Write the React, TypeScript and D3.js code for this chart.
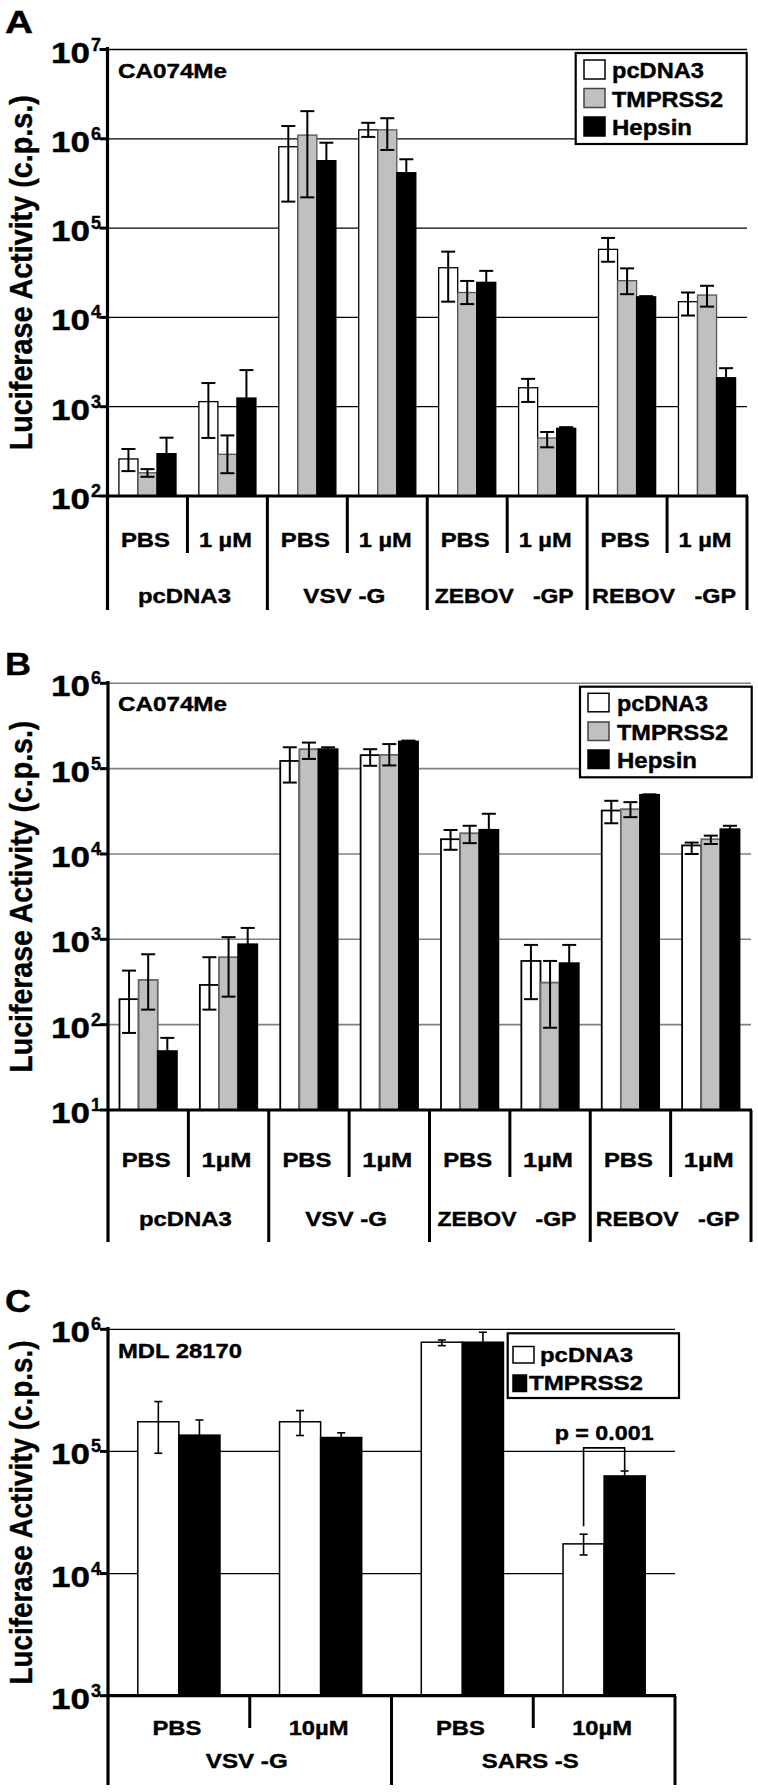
import React from "react";
import * as d3 from "d3";

const FONT = "'Liberation Sans', Arial, Helvetica, sans-serif";

// ---------- Data ----------
const seriesAB = ["pcDNA3", "TMPRSS2", "Hepsin"];
const categoriesAB = ["pcDNA3", "VSV -G", "ZEBOV   -GP", "REBOV   -GP"];
const treatmentsA = ["PBS", "1 µM"];
const treatmentsB = ["PBS", "1µM"];

// Panel A (8 sub-groups: category x treatment)
const aPcDNA3 = [260, 1140, 815000, 1260000, 36000, 1630, 57800, 15000];
const aPcDNA3Hi = [336, 1840, 1390000, 1510000, 54500, 2050, 77600, 19000];
const aPcDNA3Lo = [190, 447, 198000, 1050000, 15000, 1130, 42000, 10500];
const aTMPRSS2 = [182, 293, 1100000, 1260000, 19000, 446, 25800, 17800];
const aTMPRSS2Hi = [200, 477, 2040000, 1700000, 25600, 521, 35400, 22600];
const aTMPRSS2Lo = [164, 180, 221000, 750000, 14100, 351, 18200, 13200];
const aHepsin = [298, 1250, 569000, 417000, 24700, 573, 17000, 2110];
const aHepsinHi = [450, 2570, 904000, 590000, 33200, 590, 17300, 2700];
const aHepsinLo = [200, 600, 400000, 300000, 18000, 556, 16700, 1700];

// Panel B
const bPcDNA3 = [199, 292, 123000, 144000, 14900, 558, 32300, 12600];
const bPcDNA3Hi = [430, 617, 178000, 169000, 19100, 860, 42000, 13600];
const bPcDNA3Lo = [80, 150, 68700, 108000, 11200, 199, 22900, 10000];
const bTMPRSS2 = [334, 617, 169000, 145000, 17500, 311, 33500, 14900];
const bTMPRSS2Hi = [668, 1060, 202000, 194000, 21400, 558, 40500, 16400];
const bTMPRSS2Lo = [150, 213, 130000, 109000, 13400, 92, 27000, 13100];
const bHepsin = [49, 875, 169000, 208000, 19200, 525, 49300, 19500];
const bHepsinHi = [70, 1360, 178000, 213000, 29600, 860, 50000, 21400];
const bHepsinLo = [35, 600, 160000, 203000, 13000, 320, 48500, 17800];

// Panel C
const seriesC = ["pcDNA3", "TMPRSS2"];
const categoriesC = ["VSV -G", "SARS -S"];
const treatmentsC = ["PBS", "10µM"];
const cPcDNA3 = [175000, 175000, 784000, 17500];
const cPcDNA3Hi = [256000, 216000, 817000, 21000];
const cPcDNA3Lo = [96600, 135000, 735000, 14200];
const cTMPRSS2 = [136000, 130000, 784000, 63000];
const cTMPRSS2Hi = [181000, 142000, 946000, 69200];
const cTMPRSS2Lo = [100000, 118000, 650000, 57000];
const pBracketLevel = 107000;
const pLabel = "p = 0.001";

const yTitle = "Luciferase Activity (c.p.s.)";

// rendered widths of labels (presentation)
const W: Record<string, number> = {
  "PBS": 49, "1 µM": 53, "1µM": 50, "10µM": 60,
  "pcDNA3": 93, "VSV -G": 82, "ZEBOV   -GP": 139, "REBOV   -GP": 144, "SARS -S": 97,
};

// ---------- Helpers ----------
function T({ x, y, size, len, anchor = "start", children, fill = "#000" }: any) {
  return (
    <text
      x={x}
      y={y}
      fontSize={size}
      textAnchor={anchor}
      fontWeight="bold"
      fontFamily={FONT}
      fill={fill}
      stroke={fill}
      strokeWidth={0.4}
      textLength={len}
      lengthAdjust="spacingAndGlyphs"
      style={{ whiteSpace: "pre" }}
    >
      {children}
    </text>
  );
}

type SeriesDef = { name: string; v: number[]; hi: number[]; lo: number[]; fill: string; stroke: string };

function Panel(p: any) {
  const {
    letter, letterY, letterW, note, noteY, noteW, x0, x1, yTop, yBottom, decMin, decMax,
    gridColor, gridWidth, series, categories, treatments, padOuter,
    subLabelY, catLabelY, shortBottom, longBottom, axisTop,
    legend, capW, errW, barStroke, extra, titleLen,
  } = p;
  const y = d3.scaleLog().domain([Math.pow(10, decMin), Math.pow(10, decMax)]).range([yBottom, yTop]);
  const nSub = categories.length * treatments.length;
  const subIds = d3.range(nSub).map(String);
  const x = d3.scaleBand().domain(subIds).range([x0, x1]).padding(0);
  const bw = x.bandwidth();
  const xs = d3.scaleBand().domain(series.map((s: SeriesDef) => s.name)).range([0, bw]).paddingInner(0).paddingOuter(padOuter);
  const decades = d3.range(decMin, decMax + 1);
  const midY = (yTop + yBottom) / 2;

  return (
    <g>
      <T x={5} y={letterY} size={31} len={letterW}>{letter}</T>
      {/* gridlines */}
      {decades.slice(1).map((d) => (
        <line key={"g" + d} x1={x0} x2={x1} y1={y(Math.pow(10, d))} y2={y(Math.pow(10, d))} stroke={gridColor} strokeWidth={gridWidth} />
      ))}
      {/* bars */}
      {subIds.map((id, i) => (
        <g key={"sg" + id}>
          {series.map((s: SeriesDef) => {
            const bx = (x(id) as number) + (xs(s.name) as number);
            const top = y(s.v[i]);
            return (
              <rect key={s.name} x={bx} y={top} width={xs.bandwidth()} height={yBottom - top}
                fill={s.fill} stroke={s.stroke} strokeWidth={barStroke} />
            );
          })}
        </g>
      ))}
      {/* error bars */}
      {subIds.map((id, i) => (
        <g key={"eb" + id}>
          {series.map((s: SeriesDef) => {
            const cx = (x(id) as number) + (xs(s.name) as number) + xs.bandwidth() / 2;
            const yh = y(s.hi[i]);
            const yl = y(s.lo[i]);
            return (
              <g key={s.name} stroke="#000" strokeWidth={errW}>
                <line x1={cx} x2={cx} y1={yh} y2={yl} />
                <line x1={cx - capW / 2} x2={cx + capW / 2} y1={yh} y2={yh} />
                <line x1={cx - capW / 2} x2={cx + capW / 2} y1={yl} y2={yl} />
              </g>
            );
          })}
        </g>
      ))}
      {/* y axis */}
      <line x1={x0} x2={x0} y1={axisTop} y2={longBottom} stroke="#000" strokeWidth={3.2} />
      {decades.map((d) => {
        const ty = y(Math.pow(10, d));
        return (
          <g key={"t" + d}>
            <line x1={x0 - 8} x2={x0} y1={ty} y2={ty} stroke="#000" strokeWidth={3} />
            <T x={90} y={ty + 13} size={29} len={39} anchor="end">10</T>
            <T x={91} y={ty + 1} size={19} len={10}>{String(d)}</T>
          </g>
        );
      })}
      {/* x axis */}
      <line x1={x0} x2={x1 + 1} y1={yBottom} y2={yBottom} stroke="#000" strokeWidth={3.2} />
      {d3.range(1, nSub + 1).map((k) => {
        const xx = k === nSub ? x1 : (x(String(k)) as number);
        const long = k % treatments.length === 0;
        return (
          <line key={"st" + k} x1={xx} x2={xx} y1={yBottom} y2={long ? longBottom : shortBottom} stroke="#000" strokeWidth={3} />
        );
      })}
      {subIds.map((id, i) => {
        const lab = treatments[i % treatments.length];
        return (
          <T key={"sl" + id} x={(x(id) as number) + bw / 2 - 2} y={subLabelY} size={21} anchor="middle" len={W[lab]}>
            {lab}
          </T>
        );
      })}
      {categories.map((c: string, k: number) => (
        <T key={"cl" + k} x={x0 + (k + 0.5) * bw * treatments.length - 3} y={catLabelY} size={21} anchor="middle" len={W[c]}>
          {c}
        </T>
      ))}
      {/* note */}
      <T x={118} y={noteY} size={21} len={noteW}>{note}</T>
      {/* y title */}
      <text transform={`translate(32,${midY}) rotate(-90)`} textAnchor="middle"
        fontFamily={FONT} fontWeight="bold" fontSize={31} stroke="#000" strokeWidth={0.4}
        textLength={titleLen} lengthAdjust="spacingAndGlyphs">
        {yTitle}
      </text>
      {/* legend */}
      <rect x={legend.box[0]} y={legend.box[1]} width={legend.box[2] - legend.box[0]} height={legend.box[3] - legend.box[1]}
        fill="#fff" stroke="#000" strokeWidth={2.2} />
      {series.map((s: SeriesDef, i: number) => (
        <g key={"lg" + s.name}>
          <rect x={legend.sx} y={legend.rows[i]} width={legend.sw[i]} height={legend.sh} fill={s.fill} stroke={s.stroke === "#000" ? "#000" : "#444"} strokeWidth={1.5} />
          <T x={legend.tx[i]} y={legend.base[i]} size={legend.size} len={legend.lens[i]}>{s.name}</T>
        </g>
      ))}
      {extra ? extra(x, xs, y) : null}
    </g>
  );
}

export default function App() {
  const sA: SeriesDef[] = [
    { name: seriesAB[0], v: aPcDNA3, hi: aPcDNA3Hi, lo: aPcDNA3Lo, fill: "#fff", stroke: "#000" },
    { name: seriesAB[1], v: aTMPRSS2, hi: aTMPRSS2Hi, lo: aTMPRSS2Lo, fill: "#c0c0c0", stroke: "#555" },
    { name: seriesAB[2], v: aHepsin, hi: aHepsinHi, lo: aHepsinLo, fill: "#000", stroke: "#000" },
  ];
  const sB: SeriesDef[] = [
    { name: seriesAB[0], v: bPcDNA3, hi: bPcDNA3Hi, lo: bPcDNA3Lo, fill: "#fff", stroke: "#000" },
    { name: seriesAB[1], v: bTMPRSS2, hi: bTMPRSS2Hi, lo: bTMPRSS2Lo, fill: "#c0c0c0", stroke: "#666" },
    { name: seriesAB[2], v: bHepsin, hi: bHepsinHi, lo: bHepsinLo, fill: "#000", stroke: "#000" },
  ];
  const sC: SeriesDef[] = [
    { name: seriesC[0], v: cPcDNA3, hi: cPcDNA3Hi, lo: cPcDNA3Lo, fill: "#fff", stroke: "#000" },
    { name: seriesC[1], v: cTMPRSS2, hi: cTMPRSS2Hi, lo: cTMPRSS2Lo, fill: "#000", stroke: "#000" },
  ];

  const pExtra = (x: any, xs: any, y: any) => {
    const id = "3";
    const lx = x(id) + xs(seriesC[0]) + xs.bandwidth() / 2;
    const rx = x(id) + xs(seriesC[1]) + xs.bandwidth() / 2;
    const top = y(pBracketLevel);
    const lb = y(cPcDNA3Hi[3]) - 8;
    const rb = y(cTMPRSS2Hi[3]) - 1;
    return (
      <g>
        <path d={`M${lx},${lb}V${top}H${rx}V${rb}`} fill="none" stroke="#000" strokeWidth={1.6} />
        <T x={(lx + rx) / 2} y={top - 8} size={21} anchor="middle" len={99}>{pLabel}</T>
      </g>
    );
  };

  return (
    <svg width={758} height={1792} style={{ position: "absolute", left: 0, top: 0, background: "#fff" }}>
      <rect x={0} y={0} width={758} height={1792} fill="#fff" />
      <Panel
        letter="A" letterY={33} letterW={28} note="CA074Me" noteY={78} noteW={109}
        x0={107.5} x1={747} yTop={49.5} yBottom={496} decMin={2} decMax={7}
        gridColor="#000" gridWidth={1.3} series={sA} categories={categoriesAB} treatments={treatmentsA}
        padOuter={0.6} subLabelY={547} catLabelY={603} shortBottom={553} longBottom={610} axisTop={47}
        capW={14} errW={2} barStroke={1.3} titleLen={355}
        legend={{ box: [575.7, 53, 746.7, 144], sx: 584, sw: [21, 21, 21], sh: 19, rows: [60, 88.5, 117], tx: [612, 612, 612], base: [78, 106.5, 135], size: 22, lens: [92, 111, 80] }}
      />
      <Panel
        letter="B" letterY={675} letterW={26} note="CA074Me" noteY={711} noteW={109}
        x0={108} x1={751} yTop={683.3} yBottom={1110} decMin={1} decMax={6}
        gridColor="#808080" gridWidth={1.6} series={sB} categories={categoriesAB} treatments={treatmentsB}
        padOuter={0.6} subLabelY={1167} catLabelY={1226} shortBottom={1177} longBottom={1242} axisTop={681}
        capW={14} errW={2} barStroke={1.8} titleLen={352}
        legend={{ box: [580, 686.7, 751.7, 777.3], sx: 588, sw: [21, 21, 21], sh: 18.5, rows: [693.3, 722, 750], tx: [617, 617, 617], base: [711, 740, 768], size: 22, lens: [91, 111, 80] }}
      />
      <Panel
        letter="C" letterY={1312} letterW={26} note="MDL 28170" noteY={1358} noteW={124}
        x0={108} x1={675} yTop={1329.3} yBottom={1695.7} decMin={3} decMax={6}
        gridColor="#000" gridWidth={1.2} series={sC} categories={categoriesC} treatments={treatmentsC}
        padOuter={0.725} subLabelY={1735} catLabelY={1768} shortBottom={1728} longBottom={1785} axisTop={1327}
        capW={8} errW={1.6} barStroke={1.5} titleLen={344}
        legend={{ box: [507.7, 1333.3, 679, 1398], sx: 513, sw: [21, 13.5], sh: 16.5, rows: [1346.5, 1375], tx: [540, 529], base: [1362, 1390], size: 21, lens: [93, 114] }}
        extra={pExtra}
      />
    </svg>
  );
}
